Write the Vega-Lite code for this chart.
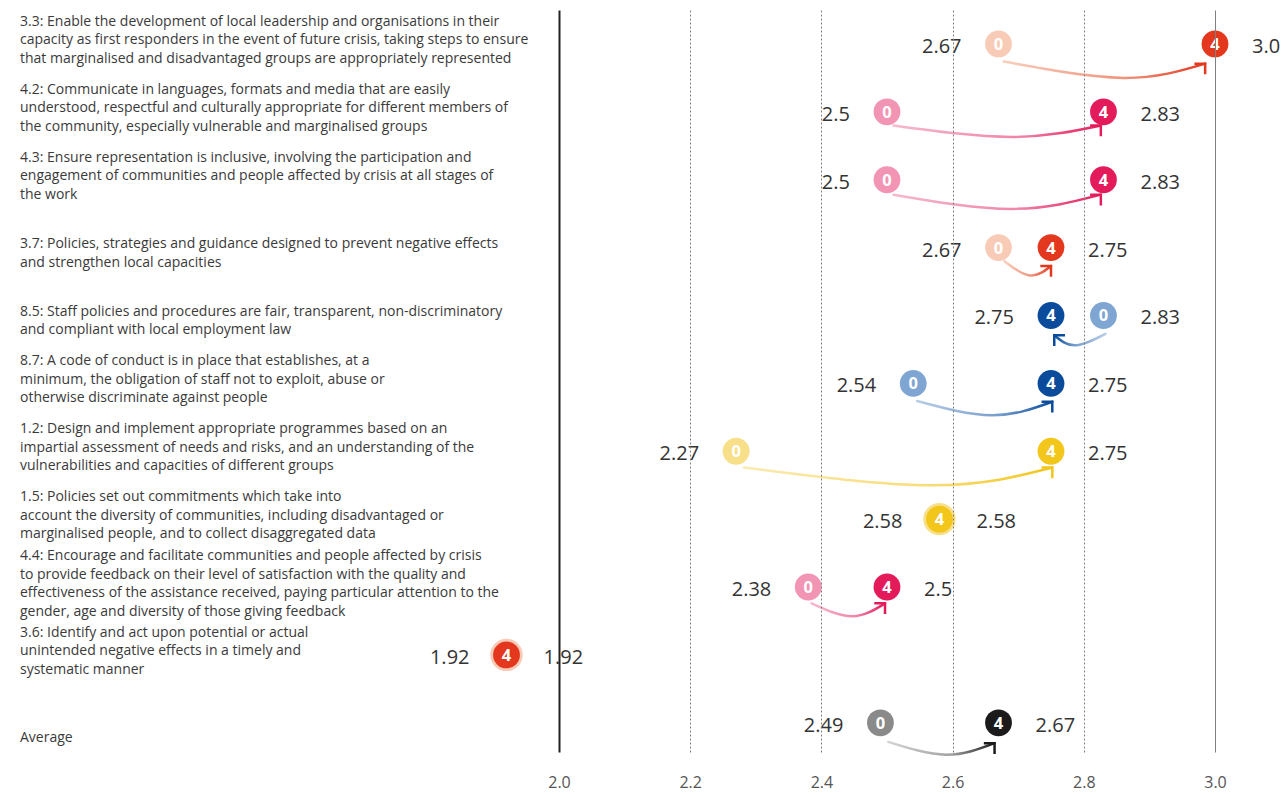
{
  "$schema": "https://vega.github.io/schema/vega-lite/v6.json",
  "width": 1288,
  "height": 742,
  "autosize": "none",
  "padding": {"left": 0, "right": 0, "top": 10, "bottom": 42},
  "background": "white",
  "config": {"view": {"stroke": null}, "font": "Open Sans"},
  "datasets": {
    "rows": [
      {"id": "3.3", "row": 0, "palette": "red", "v0": 2.67, "v4": 3.0, "t0": "2.67", "t4": "3.0", "label": "3.3: Enable the development of local leadership and organisations in their\ncapacity as first responders in the event of future crisis, taking steps to ensure\nthat marginalised and disadvantaged groups are appropriately represented"},
      {"id": "4.2", "row": 1, "palette": "pink", "v0": 2.5, "v4": 2.83, "t0": "2.5", "t4": "2.83", "label": "4.2: Communicate in languages, formats and media that are easily\nunderstood, respectful and culturally appropriate for different members of\nthe community, especially vulnerable and marginalised groups"},
      {"id": "4.3", "row": 2, "palette": "pink", "v0": 2.5, "v4": 2.83, "t0": "2.5", "t4": "2.83", "label": "4.3: Ensure representation is inclusive, involving the participation and\nengagement of communities and people affected by crisis at all stages of\nthe work"},
      {"id": "3.7", "row": 3, "palette": "red", "v0": 2.67, "v4": 2.75, "t0": "2.67", "t4": "2.75", "label": "3.7: Policies, strategies and guidance designed to prevent negative effects\nand strengthen local capacities"},
      {"id": "8.5", "row": 4, "palette": "blue", "v0": 2.83, "v4": 2.75, "t0": "2.83", "t4": "2.75", "label": "8.5: Staff policies and procedures are fair, transparent, non-discriminatory\nand compliant with local employment law"},
      {"id": "8.7", "row": 5, "palette": "blue", "v0": 2.54, "v4": 2.75, "t0": "2.54", "t4": "2.75", "label": "8.7: A code of conduct is in place that establishes, at a\nminimum, the obligation of staff not to exploit, abuse or\notherwise discriminate against people"},
      {"id": "1.2", "row": 6, "palette": "yellow", "v0": 2.27, "v4": 2.75, "t0": "2.27", "t4": "2.75", "label": "1.2: Design and implement appropriate programmes based on an\nimpartial assessment of needs and risks, and an understanding of the\nvulnerabilities and capacities of different groups"},
      {"id": "1.5", "row": 7, "palette": "yellow", "v0": 2.58, "v4": 2.58, "t0": "2.58", "t4": "2.58", "label": "1.5: Policies set out commitments which take into\naccount the diversity of communities, including disadvantaged or\nmarginalised people, and to collect disaggregated data"},
      {"id": "4.4", "row": 8, "palette": "pink", "v0": 2.38, "v4": 2.5, "t0": "2.38", "t4": "2.5", "label": "4.4: Encourage and facilitate communities and people affected by crisis\nto provide feedback on their level of satisfaction with the quality and\neffectiveness of the assistance received, paying particular attention to the\ngender, age and diversity of those giving feedback"},
      {"id": "3.6", "row": 9, "palette": "red", "v0": 1.92, "v4": 1.92, "t0": "1.92", "t4": "1.92", "label": "3.6: Identify and act upon potential or actual\nunintended negative effects in a timely and\nsystematic manner"},
      {"id": "avg", "row": 10, "palette": "grey", "v0": 2.49, "v4": 2.67, "t0": "2.49", "t4": "2.67", "label": "Average"}
    ],
    "arrows": [
      {"id": "3.3", "palette": "red", "change": "up", "pt": 0, "x": 2.678, "row": 0.26},
      {"id": "3.3", "palette": "red", "change": "up", "pt": 1, "x": 2.86, "row": 0.5},
      {"id": "3.3", "palette": "red", "change": "up", "pt": 2, "x": 2.985, "row": 0.29},
      {"id": "4.2", "palette": "pink", "change": "up", "pt": 0, "x": 2.51, "row": 1.2},
      {"id": "4.2", "palette": "pink", "change": "up", "pt": 1, "x": 2.69, "row": 1.37},
      {"id": "4.2", "palette": "pink", "change": "up", "pt": 2, "x": 2.826, "row": 1.2},
      {"id": "4.3", "palette": "pink", "change": "up", "pt": 0, "x": 2.51, "row": 2.22},
      {"id": "4.3", "palette": "pink", "change": "up", "pt": 1, "x": 2.69, "row": 2.43},
      {"id": "4.3", "palette": "pink", "change": "up", "pt": 2, "x": 2.826, "row": 2.22},
      {"id": "3.7", "palette": "red", "change": "up", "pt": 0, "x": 2.679, "row": 3.2},
      {"id": "3.7", "palette": "red", "change": "up", "pt": 1, "x": 2.718, "row": 3.41},
      {"id": "3.7", "palette": "red", "change": "up", "pt": 2, "x": 2.75, "row": 3.27},
      {"id": "8.5", "palette": "blue", "change": "down", "pt": 0, "x": 2.833, "row": 4.27},
      {"id": "8.5", "palette": "blue", "change": "down", "pt": 1, "x": 2.787, "row": 4.44},
      {"id": "8.5", "palette": "blue", "change": "down", "pt": 2, "x": 2.755, "row": 4.29},
      {"id": "8.7", "palette": "blue", "change": "up", "pt": 0, "x": 2.546, "row": 5.26},
      {"id": "8.7", "palette": "blue", "change": "up", "pt": 1, "x": 2.66, "row": 5.47},
      {"id": "8.7", "palette": "blue", "change": "up", "pt": 2, "x": 2.752, "row": 5.27},
      {"id": "1.2", "palette": "yellow", "change": "up", "pt": 0, "x": 2.282, "row": 6.24},
      {"id": "1.2", "palette": "yellow", "change": "up", "pt": 1, "x": 2.57, "row": 6.5},
      {"id": "1.2", "palette": "yellow", "change": "up", "pt": 2, "x": 2.752, "row": 6.24},
      {"id": "4.4", "palette": "pink", "change": "up", "pt": 0, "x": 2.385, "row": 8.24},
      {"id": "4.4", "palette": "pink", "change": "up", "pt": 1, "x": 2.447, "row": 8.43},
      {"id": "4.4", "palette": "pink", "change": "up", "pt": 2, "x": 2.497, "row": 8.24},
      {"id": "avg", "palette": "grey", "change": "up", "pt": 0, "x": 2.502, "row": 10.28},
      {"id": "avg", "palette": "grey", "change": "up", "pt": 1, "x": 2.59, "row": 10.47},
      {"id": "avg", "palette": "grey", "change": "up", "pt": 2, "x": 2.664, "row": 10.3}
    ]
  },
  "encoding": {
    "y": {"field": "row", "type": "quantitative", "scale": {"domain": [-0.5, 10.43], "reverse": true, "nice": false, "zero": false}, "axis": null}
  },
  "layer": [
    {
      "data": {"name": "arrows"},
      "transform": [{"filter": "datum.palette == 'red'"}],
      "mark": {"type": "line", "interpolate": "natural", "strokeWidth": 2.5, "strokeCap": "round",
        "stroke": {"gradient": "linear", "x1": 0, "y1": 0, "x2": 1, "y2": 0, "stops": [{"offset": 0, "color": "#f8cdbb"}, {"offset": 0.6, "color": "#f0937c"}, {"offset": 1, "color": "#e3381d"}]}},
      "encoding": {
        "x": {"field": "x", "type": "quantitative",
          "scale": {"domain": [1.1479, 3.1113], "nice": false, "zero": false},
          "axis": {"title": null, "values": [2, 2.2, 2.4, 2.6, 2.8, 3], "format": ".1f", "domain": false, "ticks": false,
            "labelFont": "Open Sans", "labelFontSize": 16, "labelColor": "#555555", "labelPadding": 22,
            "grid": true, "zindex": 1,
            "gridColor": {"condition": {"test": "datum.value == 2", "value": "#222222"}, "value": "#808080"},
            "gridWidth": {"condition": {"test": "datum.value == 2", "value": 2}, "value": 1},
            "gridDash": {"condition": {"test": "datum.value == 2 || datum.value == 3", "value": []}, "value": [2, 2]}}},
        "detail": {"field": "id"},
        "order": {"field": "pt"}
      }
    },
    {
      "data": {"name": "arrows"},
      "transform": [{"filter": "datum.palette == 'pink'"}],
      "mark": {"type": "line", "interpolate": "natural", "strokeWidth": 2.5, "strokeCap": "round",
        "stroke": {"gradient": "linear", "x1": 0, "y1": 0, "x2": 1, "y2": 0, "stops": [{"offset": 0, "color": "#f6b9cc"}, {"offset": 0.6, "color": "#ef86a7"}, {"offset": 1, "color": "#e41b5b"}]}},
      "encoding": {"x": {"field": "x", "type": "quantitative", "title": null}, "detail": {"field": "id"}, "order": {"field": "pt"}}
    },
    {
      "data": {"name": "arrows"},
      "transform": [{"filter": "datum.palette == 'blue' && datum.change == 'up'"}],
      "mark": {"type": "line", "interpolate": "natural", "strokeWidth": 2.5, "strokeCap": "round",
        "stroke": {"gradient": "linear", "x1": 0, "y1": 0, "x2": 1, "y2": 0, "stops": [{"offset": 0, "color": "#b7cce6"}, {"offset": 0.6, "color": "#789fce"}, {"offset": 1, "color": "#0a4c9b"}]}},
      "encoding": {"x": {"field": "x", "type": "quantitative", "title": null}, "detail": {"field": "id"}, "order": {"field": "pt"}}
    },
    {
      "data": {"name": "arrows"},
      "transform": [{"filter": "datum.palette == 'blue' && datum.change == 'down'"}],
      "mark": {"type": "line", "interpolate": "natural", "strokeWidth": 2.5, "strokeCap": "round",
        "stroke": {"gradient": "linear", "x1": 1, "y1": 0, "x2": 0, "y2": 0, "stops": [{"offset": 0, "color": "#b7cce6"}, {"offset": 0.6, "color": "#789fce"}, {"offset": 1, "color": "#0a4c9b"}]}},
      "encoding": {"x": {"field": "x", "type": "quantitative", "title": null}, "detail": {"field": "id"}, "order": {"field": "pt"}}
    },
    {
      "data": {"name": "arrows"},
      "transform": [{"filter": "datum.palette == 'yellow'"}],
      "mark": {"type": "line", "interpolate": "natural", "strokeWidth": 2.5, "strokeCap": "round",
        "stroke": {"gradient": "linear", "x1": 0, "y1": 0, "x2": 1, "y2": 0, "stops": [{"offset": 0, "color": "#fbeaaf"}, {"offset": 0.6, "color": "#f8dc78"}, {"offset": 1, "color": "#f2c61b"}]}},
      "encoding": {"x": {"field": "x", "type": "quantitative", "title": null}, "detail": {"field": "id"}, "order": {"field": "pt"}}
    },
    {
      "data": {"name": "arrows"},
      "transform": [{"filter": "datum.palette == 'grey'"}],
      "mark": {"type": "line", "interpolate": "natural", "strokeWidth": 2.5, "strokeCap": "round",
        "stroke": {"gradient": "linear", "x1": 0, "y1": 0, "x2": 1, "y2": 0, "stops": [{"offset": 0, "color": "#d4d4d4"}, {"offset": 0.6, "color": "#a0a0a0"}, {"offset": 1, "color": "#1b1b1b"}]}},
      "encoding": {"x": {"field": "x", "type": "quantitative", "title": null}, "detail": {"field": "id"}, "order": {"field": "pt"}}
    },
    {
      "data": {"name": "arrows"},
      "transform": [{"filter": "datum.pt == 2"}],
      "mark": {"type": "point", "filled": false, "opacity": 1, "strokeWidth": 2.5, "size": 460, "strokeJoin": "miter", "strokeCap": "butt"},
      "encoding": {
        "x": {"field": "x", "type": "quantitative", "title": null},
        "shape": {"condition": {"test": "datum.change == 'down'", "value": "M 1 0 L 0 0 L 0 1"}, "value": "M -1 0 L 0 0 L 0 1"},
        "stroke": {"field": "palette", "type": "nominal", "legend": null,
          "scale": {"domain": ["red", "pink", "blue", "yellow", "grey"], "range": ["#e3381d", "#e41b5b", "#0a4c9b", "#f2c61b", "#1b1b1b"]}}
      }
    },
    {
      "data": {"name": "rows"},
      "mark": {"type": "circle", "opacity": 1},
      "encoding": {
        "x": {"field": "v0", "type": "quantitative", "title": null},
        "fill": {"field": "palette", "type": "nominal", "legend": null,
          "scale": {"domain": ["red", "pink", "blue", "yellow", "grey"], "range": ["#f8cbb7", "#f294b3", "#7fa5d2", "#f8e08b", "#8a8a8a"]}},
        "size": {"condition": {"test": "datum.v0 == datum.v4", "value": 1050}, "value": 720}
      }
    },
    {
      "data": {"name": "rows"},
      "mark": {"type": "text", "color": "white", "fontWeight": "bold", "fontSize": 16.5, "align": "center", "baseline": "middle", "dy": 1},
      "encoding": {"x": {"field": "v0", "type": "quantitative", "title": null}, "text": {"value": "0"}}
    },
    {
      "data": {"name": "rows"},
      "mark": {"type": "circle", "opacity": 1, "size": 720},
      "encoding": {
        "x": {"field": "v4", "type": "quantitative", "title": null},
        "color": {"field": "palette", "type": "nominal", "legend": null,
          "scale": {"domain": ["red", "pink", "blue", "yellow", "grey"], "range": ["#e3381d", "#e41b5b", "#0a4c9b", "#f2c61b", "#1b1b1b"]}}
      }
    },
    {
      "data": {"name": "rows"},
      "mark": {"type": "text", "color": "white", "fontWeight": "bold", "fontSize": 16.5, "align": "center", "baseline": "middle", "dy": 1},
      "encoding": {"x": {"field": "v4", "type": "quantitative", "title": null}, "text": {"value": "4"}}
    },
    {
      "data": {"name": "rows"},
      "transform": [{"filter": "datum.v0 <= datum.v4"}],
      "mark": {"type": "text", "fontSize": 20, "color": "#333333", "align": "right", "baseline": "middle", "dx": -37, "dy": 3},
      "encoding": {"x": {"field": "v0", "type": "quantitative", "title": null}, "text": {"field": "t0"}}
    },
    {
      "data": {"name": "rows"},
      "transform": [{"filter": "datum.v0 <= datum.v4"}],
      "mark": {"type": "text", "fontSize": 20, "color": "#333333", "align": "left", "baseline": "middle", "dx": 37, "dy": 3},
      "encoding": {"x": {"field": "v4", "type": "quantitative", "title": null}, "text": {"field": "t4"}}
    },
    {
      "data": {"name": "rows"},
      "transform": [{"filter": "datum.v4 < datum.v0"}],
      "mark": {"type": "text", "fontSize": 20, "color": "#333333", "align": "right", "baseline": "middle", "dx": -37, "dy": 3},
      "encoding": {"x": {"field": "v4", "type": "quantitative", "title": null}, "text": {"field": "t4"}}
    },
    {
      "data": {"name": "rows"},
      "transform": [{"filter": "datum.v4 < datum.v0"}],
      "mark": {"type": "text", "fontSize": 20, "color": "#333333", "align": "left", "baseline": "middle", "dx": 37, "dy": 3},
      "encoding": {"x": {"field": "v0", "type": "quantitative", "title": null}, "text": {"field": "t0"}}
    },
    {
      "data": {"name": "rows"},
      "mark": {"type": "text", "fontSize": 14, "color": "#3a3a3a", "align": "left", "baseline": "middle", "lineBreak": "\n", "lineHeight": 18.5,
        "dy": {"expr": "max(15 - (length(split(datum.label, '\\n')) - 1) * 18.5, -31)"}},
      "encoding": {"x": {"datum": 1.1784, "type": "quantitative"}, "text": {"field": "label"}}
    }
  ]
}
